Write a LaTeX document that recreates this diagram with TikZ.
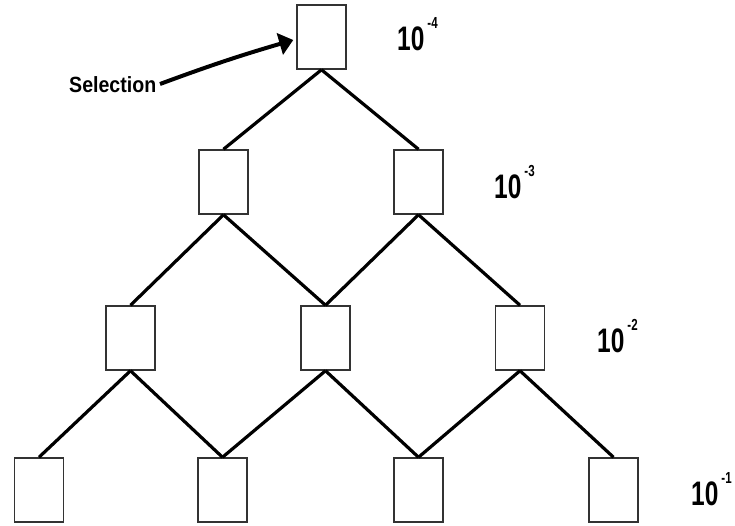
\documentclass[tikz,border=0pt]{standalone}
\usepackage{fontspec}
\setmainfont{Liberation Sans}
\newfontfamily\digfont[FakeStretch=0.72]{Liberation Sans}
\newfontfamily\selfont[FakeStretch=0.89]{Liberation Sans}
\usetikzlibrary{arrows.meta}
\tikzset{
  cell/.style={draw=black!80, line width=1.5pt, fill=white, minimum width=49pt, minimum height=64pt, inner sep=0pt},
  link/.style={line width=3.2pt, black},
  lvl/.style={anchor=base west, inner sep=0pt, font=\digfont\bfseries\fontsize{34}{34}\selectfont},
}
\newcommand{\lvlsup}[1]{\hspace{3pt}\raisebox{22pt}{\fontsize{16}{16}\selectfont #1}}
\begin{document}
\begin{tikzpicture}[x=1pt,y=-1pt]
\useasboundingbox (0,0) rectangle (735,525);
% boxes
\node[cell] (a) at (321.5,37) {};
\node[cell] (b1) at (223.5,182) {};
\node[cell] (b2) at (418.5,182) {};
\node[cell] (c1) at (130.5,338) {};
\node[cell] (c2) at (325.5,338) {};
\node[cell] (c3) at (520,338) {};
\node[cell] (d1) at (39,490) {};
\node[cell] (d2) at (222.5,490) {};
\node[cell] (d3) at (418.5,490) {};
\node[cell] (d4) at (613.5,490) {};
% links
\draw[link] (a.south) -- (b1.north);
\draw[link] (a.south) -- (b2.north);
\draw[link] (b1.south) -- (c1.north);
\draw[link] (b1.south) -- (c2.north);
\draw[link] (b2.south) -- (c2.north);
\draw[link] (b2.south) -- (c3.north);
\draw[link] (c1.south) -- (d1.north);
\draw[link] (c1.south) -- (d2.north);
\draw[link] (c2.south) -- (d2.north);
\draw[link] (c2.south) -- (d3.north);
\draw[link] (c3.south) -- (d3.north);
\draw[link] (c3.south) -- (d4.north);
% level labels
\node[lvl] (l4) at (397,50) {10\lvlsup{-4}};
\node[lvl] (l3) at (494,198) {10\lvlsup{-3}};
\node[lvl] (l2) at (597,352) {10\lvlsup{-2}};
\node[lvl] (l1) at (691,505) {10\lvlsup{-1}};
% selection
\node[anchor=base west, inner sep=0pt, font=\selfont\bfseries\fontsize{22}{22}\selectfont] (sel) at (69,92) {Selection};
\coordinate (selstart) at (160,84);
\draw[line width=4pt, -{Triangle[length=14pt,width=22pt]}] (selstart) to[bend left=2] ([xshift=-3pt,yshift=-3pt]a.west);
\end{tikzpicture}
\end{document}
